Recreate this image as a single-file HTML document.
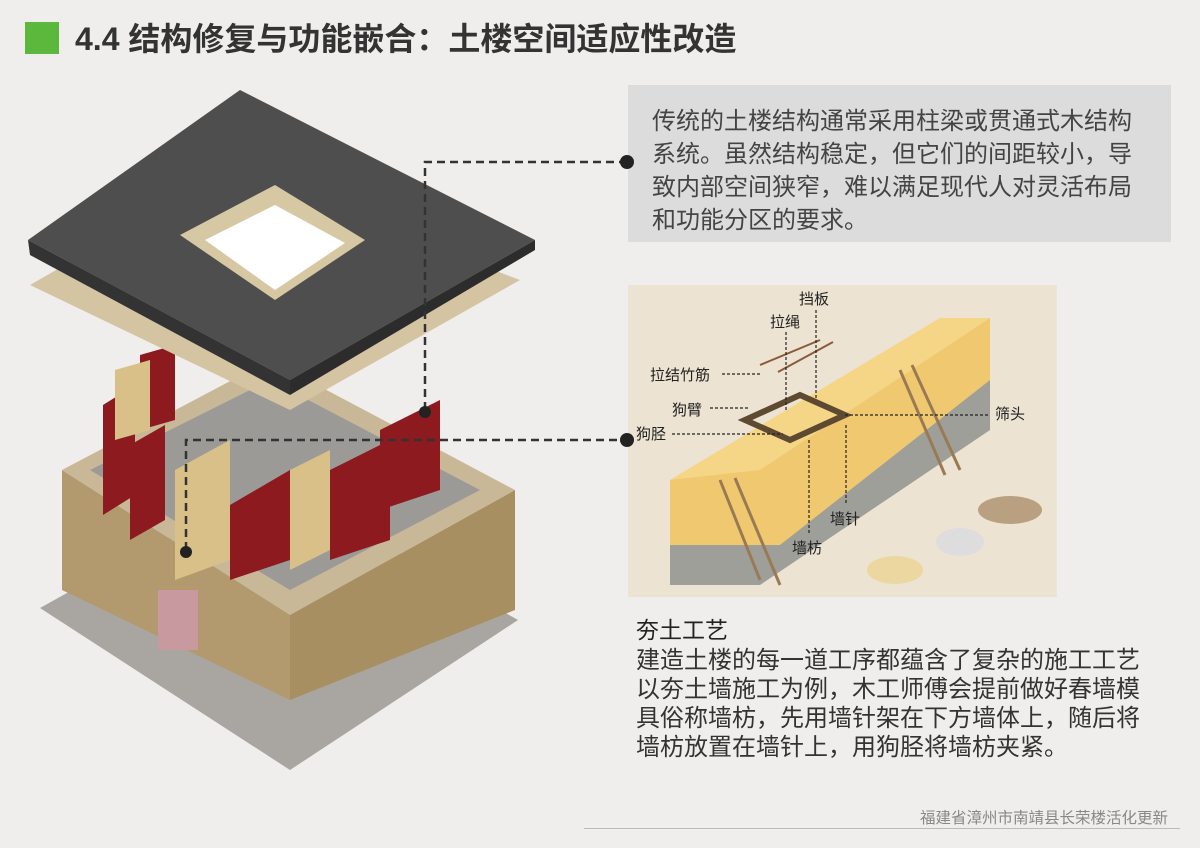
<!DOCTYPE html>
<html><head><meta charset="utf-8"><style>
body{margin:0;width:1200px;height:848px;background:#efeeec;font-family:"Liberation Sans","Noto Sans CJK SC",sans-serif;position:relative;overflow:hidden}
.t{position:absolute;color:#333}
</style></head><body>
<div style="position:absolute;left:25px;top:22px;width:34px;height:32px;background:#5cb83c"></div>
<div class="t" style="left:75px;top:19px;font-size:32px;font-weight:bold;color:#333;line-height:40px;white-space:nowrap">4.4 结构修复与功能嵌合：土楼空间适应性改造</div>
<div style="position:absolute;left:628px;top:85px;width:543px;height:157px;background:#dcdcdc"></div>
<div class="t" style="left:652px;top:105px;width:495px;font-size:24px;line-height:33px;color:#444">传统的土楼结构通常采用柱梁或贯通式木结构系统。虽然结构稳定，但它们的间距较小，导致内部空间狭窄，难以满足现代人对灵活布局和功能分区的要求。</div>
<div class="t" style="left:636px;top:615px;font-size:23px;line-height:30px;color:#222">夯土工艺</div>
<div class="t" style="left:636px;top:646px;width:512px;font-size:24px;line-height:29px;color:#333">建造土楼的每一道工序都蕴含了复杂的施工工艺以夯土墙施工为例，木工师傅会提前做好春墙模具俗称墙枋，先用墙针架在下方墙体上，随后将墙枋放置在墙针上，用狗胫将墙枋夹紧。</div>
<div class="t" style="left:920px;top:806px;font-size:15.5px;color:#888;white-space:nowrap">福建省漳州市南靖县长荣楼活化更新</div>
<div style="position:absolute;left:584px;top:828px;width:596px;height:1px;background:#bbb"></div>
<svg width="1200" height="848" style="position:absolute;left:0;top:0">
<polygon points="40,608 290,770 518,620 270,480" fill="#a9a6a2"/>
<polygon points="62,470 290,615 290,700 62,590" fill="#b29a6e"/>
<polygon points="290,615 515,490 515,610 290,700" fill="#a88f62"/>
<polygon points="62,470 270,360 515,490 290,615" fill="#c9b898"/>
<polygon points="90,470 270,380 480,490 290,590" fill="#9c9a96"/>
<rect x="158" y="590" width="40" height="60" fill="#c89aa0"/>
<g fill="#8c1a1f">
<polygon points="103,405 135,385 135,495 103,515"/>
<polygon points="130,445 165,425 165,520 130,540"/>
<polygon points="230,505 290,470 290,560 230,580"/>
<polygon points="330,470 390,440 390,540 330,560"/>
<polygon points="380,430 440,400 440,490 380,510"/>
<polygon points="140,355 175,345 175,420 140,430"/>
</g>
<g fill="#d9c089">
<polygon points="175,470 230,440 230,560 175,580"/>
<polygon points="290,470 330,450 330,550 290,570"/>
<polygon points="115,370 150,360 150,430 115,440"/>
</g>
<polygon points="30,285 230,170 520,280 290,410" fill="#d4c4a2"/>
<polygon points="28,240 240,90 535,240 290,380" fill="#4e4e4e"/>
<polygon points="28,240 290,380 290,395 30,255" fill="#333"/>
<polygon points="290,380 535,240 535,250 290,395" fill="#2c2c2c"/>
<polygon points="180,235 275,185 365,240 275,300" fill="#d7c8a4"/>
<polygon points="205,240 275,205 345,243 275,290" fill="#fff"/>
<rect x="628" y="285" width="429" height="312" fill="#ece3d2"/>
<polygon points="670,520 910,370 990,370 990,430 760,585 670,585" fill="#9d9f98"/>
<polygon points="670,480 940,318 990,318 990,380 780,545 670,545" fill="#f0c870"/>
<polygon points="670,480 940,318 990,318 760,470" fill="#f7dc90" opacity=".7"/>
<polygon points="745,420 800,395 845,415 790,440" fill="none" stroke="#5e4a30" stroke-width="6"/>
<line x1="760" y1="365" x2="820" y2="340" stroke="#8a5a3a" stroke-width="2"/>
<line x1="778" y1="372" x2="833" y2="342" stroke="#8a5a3a" stroke-width="2"/>
<g stroke="#9a7a55" stroke-width="3"><line x1="720" y1="480" x2="760" y2="580"/><line x1="735" y1="478" x2="780" y2="585"/><line x1="900" y1="370" x2="945" y2="475"/><line x1="912" y1="365" x2="960" y2="470"/></g>
<ellipse cx="895" cy="570" rx="28" ry="14" fill="#ecd7a0"/>
<ellipse cx="960" cy="542" rx="24" ry="14" fill="#ddd"/>
<ellipse cx="1010" cy="510" rx="32" ry="14" fill="#b8a080"/>
<g font-size="15" fill="#222" font-family="Liberation Sans,Noto Sans CJK SC,sans-serif">
<text x="799" y="304">挡板</text><text x="770" y="327">拉绳</text><text x="650" y="380">拉结竹筋</text>
<text x="672" y="415">狗臂</text><text x="636" y="439">狗胫</text><text x="995" y="419">筛头</text>
<text x="830" y="524">墙针</text><text x="792" y="553">墙枋</text></g>
<g stroke="#222" stroke-width="1.2" stroke-dasharray="3,2" fill="none">
<line x1="816" y1="310" x2="816" y2="400"/><line x1="786" y1="332" x2="786" y2="410"/>
<line x1="722" y1="374" x2="760" y2="374"/><line x1="710" y1="408" x2="750" y2="408"/>
<line x1="672" y1="434" x2="783" y2="434"/><line x1="845" y1="415" x2="990" y2="415"/>
<line x1="846" y1="425" x2="846" y2="505"/><line x1="809" y1="440" x2="809" y2="535"/></g>
<g stroke="#333" stroke-width="2.5" stroke-dasharray="8,5" fill="none">
<polyline points="425,410 425,162 627,162"/>
<polyline points="186,550 186,440 627,440"/></g>
<circle cx="627" cy="162" r="7" fill="#222"/><circle cx="627" cy="440" r="7" fill="#222"/>
<circle cx="425" cy="412" r="6" fill="#222"/><circle cx="186" cy="552" r="6" fill="#222"/>
</svg>
</body></html>
